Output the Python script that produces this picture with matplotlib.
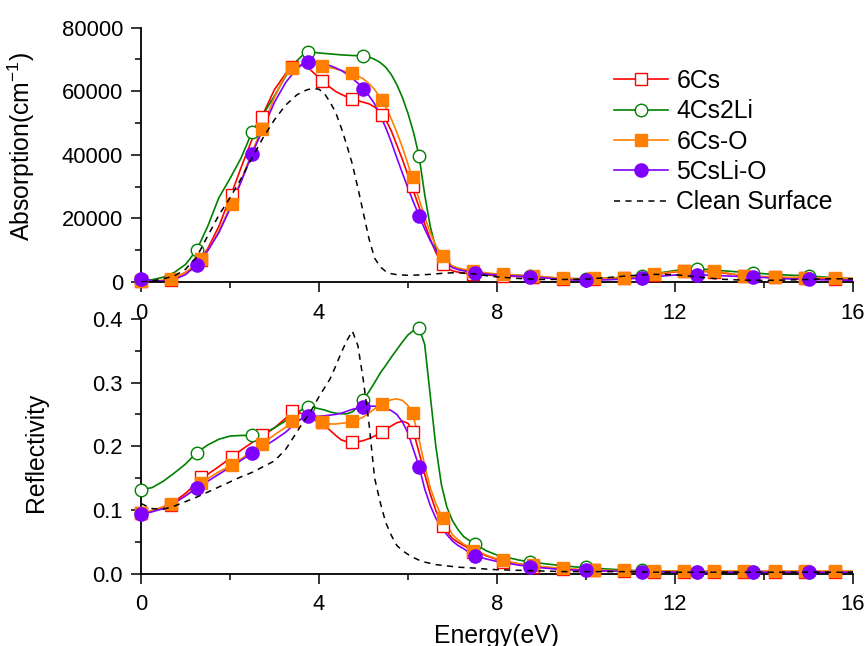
import numpy as np
import matplotlib
matplotlib.use("Agg")
import matplotlib.pyplot as plt
from matplotlib.ticker import MultipleLocator, FormatStrFormatter

plt.rcParams['font.family'] = ['Liberation Sans', 'DejaVu Sans']
plt.rcParams['mathtext.fontset'] = 'custom'
plt.rcParams['mathtext.rm'] = 'Liberation Sans'
plt.rcParams['mathtext.it'] = 'Liberation Sans:italic'

# energy grid of the curves (eV), finer where the spectra bend
energy = np.concatenate([np.arange(0, 3.51, 0.25), np.arange(3.625, 7.51, 0.125),
                         [7.75, 8.0], np.arange(8.5, 16.01, 0.5)])
# energies carrying symbols
e_sq = np.round(np.arange(24) * 0.678, 3)
e_ci = np.arange(13) * 1.25

labels = ['6Cs', '4Cs2Li', '6Cs-O', '5CsLi-O', 'Clean Surface']

# absorption, in 1000 cm^-1
abs_6cs = [0.3, 0.2, 0.4, 1.2, 3.0, 5.5, 10.5, 17.5, 26.5, 36, 45, 53, 60.5, 65.5, 68.0,
           68.2, 67.5, 65.8, 64.3, 62.6, 61.2, 59.9, 59.0, 58.2, 57.6, 57.0, 56.5, 56.0, 55.0, 53.5, 51,
           47.5, 43, 38.5, 33.5, 28.5, 23.5, 18.3, 13.5, 9.3, 6.0, 4.4, 3.5, 3.1, 2.8, 2.6, 2.5,
           2.2, 2.0,
           1.7, 1.4, 1.0, 0.9, 1.1, 1.5, 2.2, 3.2, 3.4, 3.0, 2.0, 1.6, 1.3, 1.1, 1.0, 0.9]
abs_4cs2li = [0.5, 0.7, 1.5, 3.0, 5.5, 10.0, 17.5, 26.5, 32.5, 39, 47.3, 52.8, 58.5, 64.7, 69.5,
              71.2, 72.3, 72.2, 72.0, 71.85, 71.7, 71.55, 71.4, 71.3, 71.2, 71.15, 71.1, 70.7, 70.0, 69.0,
              67.5, 65.2, 62, 58, 53, 47, 39.5, 27.5, 17.5, 10.5, 7.5, 5.8, 4.9, 4.3, 3.8, 3.2, 2.7,
              2.4, 2.3,
              2.1, 1.6, 1.1, 1.0, 1.2, 1.6, 2.5, 3.6, 4.2, 3.6, 3.1, 2.6, 2.2, 1.9, 1.4, 1.0]
abs_6cso = [0.3, 0.3, 0.6, 1.3, 3.0, 5.5, 10, 16, 23.5, 32, 41, 49.5, 58, 65.2, 67.8,
            68.3, 68.5, 68.4, 68.2, 67.8, 67.4, 67.0, 66.5, 66.1, 65.6, 64.8, 63.8, 62.3, 60.5, 58, 55,
            51.3, 47, 42.3, 37, 31.5, 26, 20.5, 15.5, 11.5, 8.5, 6.5, 5, 4.4, 4, 3.7, 3.4,
            2.9, 2.5,
            2.1, 1.7, 1.1, 1.0, 1.2, 1.6, 2.4, 3.3, 3.6, 3.2, 2.0, 1.7, 1.5, 1.4, 1.3, 1.2]
abs_5cslio = [0.8, 0.4, 0.3, 0.8, 2.3, 5.3, 9.8, 15.5, 23, 31.5, 40.3, 48.5, 56.5, 62.7, 67,
              68.4, 69.2, 69.2, 69.0, 68.6, 68.0, 67.3, 66.5, 65.4, 64.0, 62.5, 60.7, 58.5, 56, 52.5, 48.5,
              44, 39, 34.2, 29.5, 25, 20.8, 16.7, 13, 10, 7.5, 5.8, 4.5, 3.9, 3.5, 3.2, 2.9,
              2.5, 2.2,
              1.8, 1.4, 0.7, 0.5, 0.7, 1.0, 1.6, 2.2, 2.3, 2.0, 1.7, 1.4, 1.0, 0.8, 0.6, 0.5]
abs_clean = [0.0, 0.3, 1.0, 1.9, 4.0, 7.8, 14.5, 21, 26.5, 32.5, 39.2, 45.5, 51, 55.6, 58.8,
             59.8, 60.5, 60.8, 60.6, 59.2, 56.5, 53.3, 48.5, 43, 37, 29.5, 21.5, 13.5, 7.5, 4.8, 3.3,
             2.6, 2.3, 2.2, 2.1, 2.15, 2.2, 2.3, 2.4, 2.55, 2.7, 2.8, 2.9, 2.9, 2.8, 2.65, 2.5,
             2.0, 1.6,
             1.1, 0.8, 0.8, 0.9, 1.4, 2.0, 2.4, 2.3, 1.6, 0.9, 0.6, 0.5, 0.6, 0.8, 1.0, 1.0]

abs_6cs_pts = [0.3, 0.7, 7.0, 27.5, 51.8, 67.7, 63.2, 57.6, 52.6, 30.1, 5.5, 2.5,
               1.8, 1.6, 1.0, 0.9, 1.3, 2.2, 3.3, 3.2, 1.9, 1.5, 1.2, 1.0]
abs_6cso_pts = [0.3, 1.0, 7.1, 24.4, 48.2, 67.2, 68.0, 65.6, 57.3, 32.9, 8.2, 3.5,
                2.4, 1.9, 1.1, 1.1, 1.4, 2.4, 3.5, 3.5, 1.9, 1.7, 1.4, 1.4]
abs_4cs2li_pts = [0.5, 10.0, 47.3, 72.3, 71.1, 39.5, 2.7, 2.0, 1.0, 1.9, 4.2, 2.9, 1.9]
abs_5cslio_pts = [0.8, 5.3, 40.3, 69.2, 60.7, 20.8, 2.9, 1.6, 0.5, 1.3, 2.3, 1.6, 0.8]

# reflectivity
ref_6cs = [0.095, 0.098, 0.104, 0.113, 0.126, 0.142, 0.156, 0.168, 0.181, 0.194, 0.206, 0.217, 0.229, 0.244, 0.254,
           0.251, 0.247, 0.243, 0.238, 0.232, 0.225, 0.217, 0.210, 0.207, 0.2065, 0.207, 0.209, 0.212, 0.216,
           0.221, 0.226, 0.232, 0.237, 0.2395, 0.236, 0.222, 0.19, 0.156, 0.125, 0.099, 0.079, 0.066, 0.055,
           0.049, 0.044, 0.040, 0.036,
           0.028, 0.022,
           0.015, 0.010, 0.007, 0.005, 0.004, 0.003, 0.003, 0.003, 0.002, 0.002, 0.002, 0.002, 0.002, 0.002,
           0.002, 0.002]
ref_4cs2li = [0.132, 0.135, 0.145, 0.158, 0.172, 0.190, 0.202, 0.211, 0.216, 0.217, 0.217, 0.220, 0.229, 0.240,
              0.252,
              0.258, 0.262, 0.261, 0.259, 0.257, 0.254, 0.252, 0.251, 0.251, 0.254, 0.262, 0.273, 0.286, 0.300,
              0.315, 0.327, 0.340, 0.352, 0.364, 0.375, 0.382, 0.386, 0.36, 0.28, 0.20, 0.14, 0.104, 0.083,
              0.069, 0.058, 0.052, 0.047,
              0.036, 0.029,
              0.021, 0.016, 0.012, 0.009, 0.007, 0.005, 0.004, 0.004, 0.003, 0.003, 0.003, 0.003, 0.002, 0.002,
              0.002, 0.002]
ref_6cso = [0.095, 0.099, 0.105, 0.111, 0.122, 0.136, 0.149, 0.160, 0.169, 0.180, 0.193, 0.205, 0.218, 0.230,
            0.241,
            0.243, 0.243, 0.241, 0.238, 0.236, 0.235, 0.235, 0.236, 0.237, 0.2395, 0.242, 0.246, 0.252, 0.259,
            0.265, 0.270, 0.273, 0.2745, 0.272, 0.264, 0.246, 0.21, 0.17, 0.135, 0.11, 0.091, 0.076, 0.061,
            0.053, 0.046, 0.042, 0.038,
            0.029, 0.023,
            0.015, 0.011, 0.008, 0.006, 0.005, 0.004, 0.004, 0.004, 0.004, 0.004, 0.004, 0.004, 0.004, 0.004,
            0.004, 0.004]
ref_5cslio = [0.093, 0.097, 0.102, 0.111, 0.122, 0.134, 0.145, 0.156, 0.167, 0.178, 0.189, 0.199, 0.210, 0.222,
              0.238,
              0.244, 0.247, 0.247, 0.247, 0.248, 0.249, 0.250, 0.252, 0.255, 0.258, 0.260, 0.262, 0.263, 0.263,
              0.262, 0.260, 0.256, 0.250, 0.238, 0.221, 0.194, 0.168, 0.133, 0.107, 0.087, 0.072, 0.061, 0.051,
              0.044, 0.039, 0.033, 0.028,
              0.023, 0.019,
              0.013, 0.009, 0.006, 0.005, 0.004, 0.003, 0.003, 0.002, 0.002, 0.002, 0.002, 0.002, 0.002, 0.002,
              0.002, 0.002]
ref_clean = [0.110, 0.102, 0.101, 0.106, 0.113, 0.120, 0.128, 0.136, 0.144, 0.152, 0.159, 0.168, 0.177, 0.195,
             0.222,
             0.236, 0.248, 0.262, 0.278, 0.292, 0.306, 0.326, 0.347, 0.366, 0.381, 0.358, 0.302, 0.235, 0.150,
             0.112, 0.080, 0.060, 0.044, 0.036, 0.030, 0.025, 0.021, 0.018, 0.016, 0.014, 0.013, 0.012, 0.011,
             0.010, 0.0095, 0.009, 0.0085,
             0.007, 0.006,
             0.005, 0.004, 0.003, 0.003, 0.003, 0.003, 0.002, 0.002, 0.002, 0.002, 0.002, 0.002, 0.002, 0.002,
             0.002, 0.002]

ref_6cs_pts = [0.095, 0.108, 0.151, 0.1835, 0.217, 0.255, 0.238, 0.2065, 0.223, 0.223, 0.075, 0.034,
               0.018, 0.011, 0.007, 0.005, 0.004, 0.003, 0.003, 0.003, 0.002, 0.002, 0.002, 0.002]
ref_6cso_pts = [0.095, 0.109, 0.143, 0.170, 0.203, 0.239, 0.238, 0.2395, 0.2665, 0.2525, 0.087, 0.036,
                0.021, 0.014, 0.009, 0.006, 0.005, 0.004, 0.004, 0.004, 0.004, 0.004, 0.004, 0.004]
ref_4cs2li_pts = [0.132, 0.190, 0.217, 0.262, 0.272, 0.386, 0.047, 0.018, 0.010, 0.005, 0.003, 0.003, 0.002]
ref_5cslio_pts = [0.093, 0.134, 0.189, 0.247, 0.262, 0.168, 0.028, 0.011, 0.005, 0.003, 0.002, 0.002, 0.002]

RED, GREEN, ORANGE, PURPLE = '#FF0000', '#008000', '#FF8000', '#8000FF'
styles = [
    dict(color=RED, marker='s', ms=8, mfc='white', mec=RED),
    dict(color=GREEN, marker='o', ms=9, mfc='white', mec=GREEN),
    dict(color=ORANGE, marker='s', ms=8.5, mfc=ORANGE, mec=ORANGE),
    dict(color=PURPLE, marker='o', ms=9.5, mfc=PURPLE, mec=PURPLE),
]
DASH = (0, (4, 3.5))

fig = plt.figure(figsize=(8.66, 6.46), dpi=100)
ax1 = fig.add_axes([0.1628, 0.5635, 0.8222, 0.3939])
ax2 = fig.add_axes([0.1628, 0.1122, 0.8222, 0.3940])


def draw(ax, lines, pts, clean, scale=1.0):
    xs_pts = [e_sq, e_ci, e_sq, e_ci]
    for y, yp, xp, st in zip(lines, pts, xs_pts, styles):
        ax.plot(energy, np.array(y) * scale, color=st['color'], lw=1.2, zorder=2)
        ax.plot(xp, np.array(yp) * scale, ls='none', marker=st['marker'], ms=st['ms'],
                mfc=st['mfc'], mec=st['mec'], mew=1.0, clip_on=False, zorder=3)
    ax.plot(energy, np.array(clean) * scale, color='black', lw=1.1, ls=DASH, zorder=4)


draw(ax1, [abs_6cs, abs_4cs2li, abs_6cso, abs_5cslio],
     [abs_6cs_pts, abs_4cs2li_pts, abs_6cso_pts, abs_5cslio_pts], abs_clean, 1000)
draw(ax2, [ref_6cs, ref_4cs2li, ref_6cso, ref_5cslio],
     [ref_6cs_pts, ref_4cs2li_pts, ref_6cso_pts, ref_5cslio_pts], ref_clean)

for ax in (ax1, ax2):
    ax.set_xlim(0, 16)
    ax.xaxis.set_major_locator(MultipleLocator(4))
    ax.xaxis.set_minor_locator(MultipleLocator(2))
    for s in ('top', 'right'):
        ax.spines[s].set_visible(False)
    for s in ('left', 'bottom'):
        ax.spines[s].set_linewidth(1.3)
    ax.tick_params(which='major', length=7, width=1.1, labelsize=15.8)
    ax.tick_params(which='minor', length=4.5, width=1.1)
    ax.tick_params(axis='x', which='major', pad=8)
    ax.tick_params(axis='y', which='major', pad=6)

ax1.set_ylim(0, 80000)
ax1.yaxis.set_major_locator(MultipleLocator(20000))
ax1.yaxis.set_minor_locator(MultipleLocator(10000))
ax2.set_ylim(0, 0.4)
ax2.yaxis.set_major_locator(MultipleLocator(0.1))
ax2.yaxis.set_minor_locator(MultipleLocator(0.05))
ax2.yaxis.set_major_formatter(FormatStrFormatter('%.1f'))

ax1.set_ylabel('Absorption(cm$^{-1}$)', fontsize=17.8)
ax1.yaxis.set_label_coords(-0.146, 0.532)
ax2.set_ylabel('Reflectivity', fontsize=17.8)
ax2.yaxis.set_label_coords(-0.131, 0.475)
ax2.set_xlabel('Energy(eV)', fontsize=17.8, labelpad=6)

handles = []
for st, lab in zip(styles, labels):
    h, = ax1.plot([], [], color=st['color'], lw=1.2, marker=st['marker'], ms=st['ms'],
                  mfc=st['mfc'], mec=st['mec'], mew=1.0, label=lab)
    handles.append(h)
h, = ax1.plot([], [], color='black', lw=1.1, ls=DASH, label=labels[4])
handles.append(h)
ax1.legend(handles=handles, loc='upper left', bbox_to_anchor=(0.709, 0.893),
           bbox_transform=fig.transFigure, frameon=False, fontsize=17.8,
           handlelength=2.2, handletextpad=0.32, labelspacing=0.254,
           borderpad=0, borderaxespad=0, numpoints=1)

fig.savefig('out.png', dpi=100)
